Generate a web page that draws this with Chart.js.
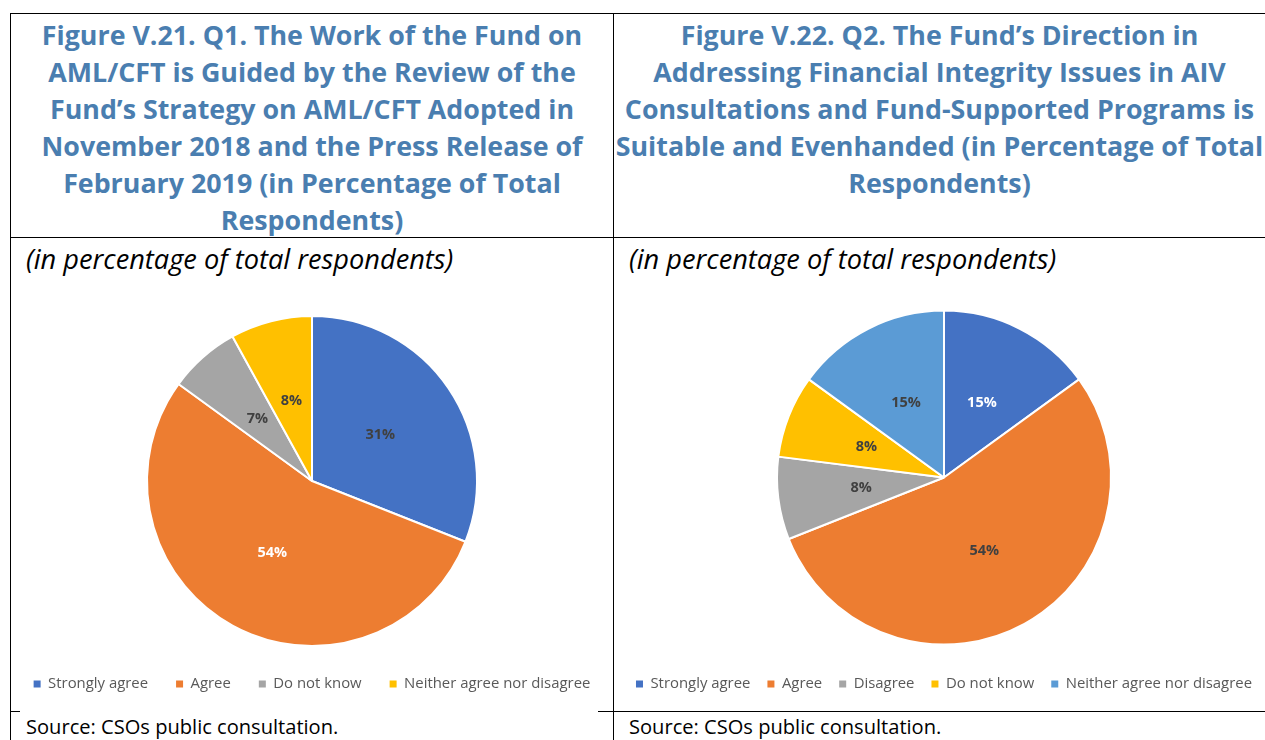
<!DOCTYPE html>
<html>
<head>
<meta charset="utf-8">
<script src="https://cdn.jsdelivr.net/npm/chart.js@4.4.1/dist/chart.umd.min.js"></script>
<style>
  html, body { margin: 0; padding: 0; background: #fff; }
  body { position: relative; width: 1265px; height: 740px; overflow: hidden; font-family: "Open Sans", Lato, sans-serif; }
  .rule { position: absolute; background: #000; }
  .title {
    position: absolute; top: 16px; text-align: center; white-space: nowrap;
    color: #4a7eb0; font-weight: bold; font-size: 26.8px; line-height: 37px;
  }
  .sub { position: absolute; top: 242px; font-style: italic; font-size: 27.2px; line-height: 34px; color: #000; white-space: nowrap; }
  .src { position: absolute; top: 714px; font-size: 20.1px; line-height: 26px; color: #000; white-space: nowrap; }
  canvas { position: absolute; }
</style>
</head>
<body>
  <!-- table rules -->
  <div class="rule" style="left:10px;top:13px;width:1255px;height:1px"></div>
  <div class="rule" style="left:10px;top:13px;width:1px;height:727px"></div>
  <div class="rule" style="left:613px;top:13px;width:1px;height:727px"></div>
  <div class="rule" style="left:10px;top:237px;width:1255px;height:1px"></div>
  <div class="rule" style="left:10px;top:711px;width:10px;height:1px"></div>
  <div class="rule" style="left:598px;top:711px;width:667px;height:1px"></div>

  <div class="title" style="left:10px;width:604px">
    Figure V.21. Q1. The Work of the Fund on<br>
    AML/CFT is Guided by the Review of the<br>
    Fund’s Strategy on AML/CFT Adopted in<br>
    November 2018 and the Press Release of<br>
    February 2019 (in Percentage of Total<br>
    Respondents)
  </div>
  <div class="title" style="left:614px;width:651px">
    Figure V.22. Q2. The Fund’s Direction in<br>
    Addressing Financial Integrity Issues in AIV<br>
    Consultations and Fund-Supported Programs is<br>
    Suitable and Evenhanded (in Percentage of Total<br>
    Respondents)
  </div>

  <div class="sub" style="left:26px">(in percentage of total respondents)</div>
  <div class="sub" style="left:629px">(in percentage of total respondents)</div>

  <!-- canvases are wider than their cells so the legend stays on one row -->
  <canvas id="pie1" width="682" height="420" style="left:-29px;top:290px"></canvas>
  <canvas id="pie2" width="730" height="420" style="left:579px;top:290px"></canvas>

  <div class="src" style="left:26px">Source: CSOs public consultation.</div>
  <div class="src" style="left:629px">Source: CSOs public consultation.</div>

<script>
// Q1 answers
const q1Labels = ["Strongly agree", "Agree", "Do not know", "Neither agree nor disagree"];
const q1Values = [31, 54, 7, 8];
const q1Colors = ["#4472c4", "#ed7d31", "#a5a5a5", "#ffc000"];
const q1LabelColors = ["#404040", "#ffffff", "#404040", "#404040"];

// Q2 answers
const q2Labels = ["Strongly agree", "Agree", "Disagree", "Do not know", "Neither agree nor disagree"];
const q2Values = [15, 54, 8, 8, 15];
const q2Colors = ["#4472c4", "#ed7d31", "#a5a5a5", "#ffc000", "#5b9bd5"];
const q2LabelColors = ["#ffffff", "#404040", "#404040", "#404040", "#404040"];

const FONT = "'Open Sans', Lato, sans-serif";

// percent labels at half the radius of each slice
const sliceLabels = {
  id: "sliceLabels",
  afterDatasetsDraw(chart, args, opts) {
    const ctx = chart.ctx;
    const meta = chart.getDatasetMeta(0);
    const values = chart.data.datasets[0].data;
    ctx.save();
    ctx.font = "bold 14.5px " + FONT;
    ctx.textAlign = "center";
    ctx.textBaseline = "middle";
    meta.data.forEach((arc, i) => {
      const p = arc.getProps(["x", "y", "startAngle", "endAngle", "outerRadius"], true);
      const mid = (p.startAngle + p.endAngle) / 2;
      const r = p.outerRadius * 0.5;
      ctx.fillStyle = opts.colors[i];
      ctx.fillText(values[i] + "%", p.x + Math.cos(mid) * r, p.y + Math.sin(mid) * r);
    });
    ctx.restore();
  }
};

function makePie(id, labels, values, colors, labelColors, radius, legendPad, padding) {
  const baseLabels = Chart.overrides.pie.plugins.legend.labels.generateLabels;
  return new Chart(document.getElementById(id), {
    type: "pie",
    data: {
      labels: labels,
      datasets: [{
        data: values,
        backgroundColor: colors,
        borderColor: "#ffffff",
        borderWidth: 2,
        radius: radius
      }]
    },
    options: {
      responsive: false,
      animation: false,
      layout: { padding: padding },
      plugins: {
        tooltip: { enabled: false },
        sliceLabels: { colors: labelColors },
        legend: {
          position: "bottom",
          labels: {
            boxWidth: 7,
            boxHeight: 7,
            padding: legendPad,
            color: "#595959",
            font: { family: FONT, size: 14.9 },
            generateLabels(chart) {
              return baseLabels(chart).map(item => Object.assign(item, { lineWidth: 0 }));
            }
          }
        }
      }
    },
    plugins: [sliceLabels]
  });
}

makePie("pie1", q1Labels, q1Values, q1Colors, q1LabelColors, 165, 28, { top: 23.5, bottom: 8.5 });
makePie("pie2", q2Labels, q2Values, q2Colors, q2LabelColors, 167, 17, { top: 5.5, bottom: 8.5 });
</script>
</body>
</html>
